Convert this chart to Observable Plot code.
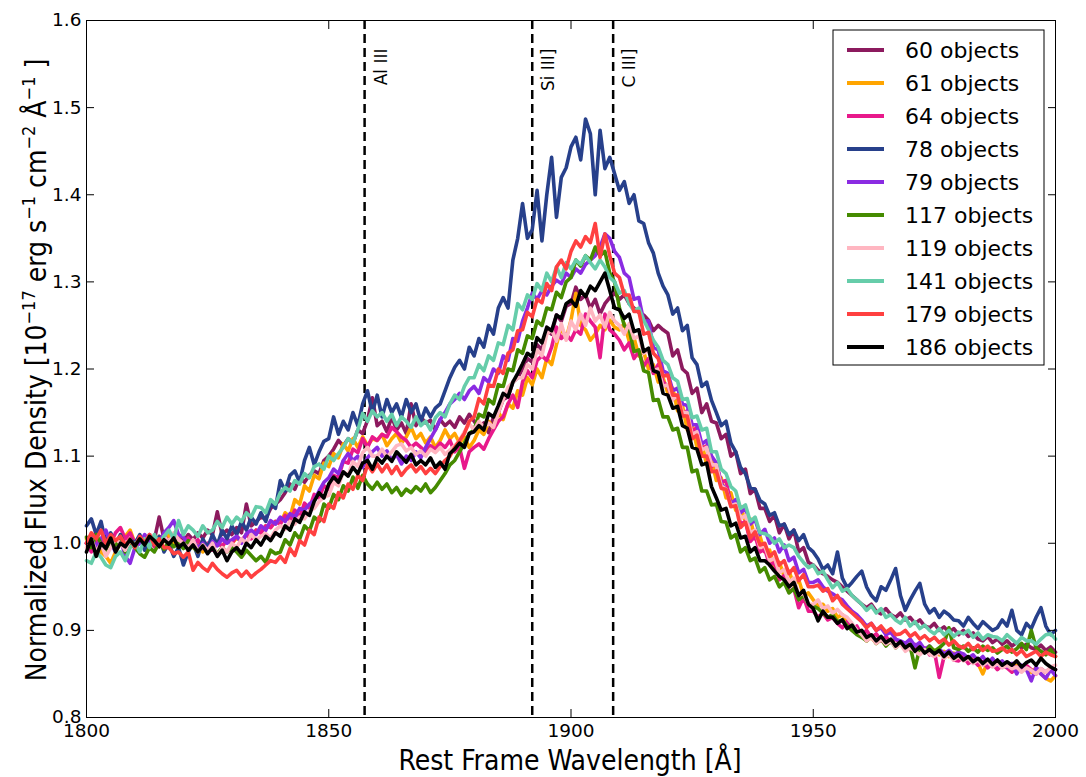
<!DOCTYPE html>
<html><head><meta charset="utf-8">
<script src="https://cdn.jsdelivr.net/npm/d3@7"></script>
<script src="https://cdn.jsdelivr.net/npm/@observablehq/plot@0.6"></script>
<style>body{margin:0;background:#fff} #chart{width:1086px;height:777px}</style>
</head><body><div id="chart"></div>
<script>
// Wavelength grid: 1 Å sampling from 1800 to 2000 Å
const startWl = 1800;
const xTicks = [1800, 1850, 1900, 1950, 2000];
const yTicks = [0.8, 0.9, 1.0, 1.1, 1.2, 1.3, 1.4, 1.5, 1.6];
const lineWl = [1857.4, 1892.0, 1908.7];
const lineNames = ["Al III", "Si III]", "C III]"];

const seriesNames = ["60 objects","61 objects","64 objects","78 objects","79 objects","117 objects","119 objects","141 objects","179 objects","186 objects"];
const seriesColors = ["#8c1a5e","#ffa500","#e8198b","#27408b","#8a2be2","#458b00","#ffb6c1","#66cdaa","#ff4040","#000000"];

const s60 = [
1.0,0.995,1.005,0.99,1.0,1.008,0.998,1.004,0.992,1.0,
0.995,1.004,0.998,1.01,1.004,1.03,1.005,1.012,1.0,1.008,
1.002,1.01,1.004,1.012,1.006,1.015,1.01,1.036,1.01,1.015,
1.01,1.018,1.012,1.045,1.02,1.025,1.03,1.028,1.04,1.045,
1.05,1.058,1.068,1.062,1.075,1.07,1.078,1.083,1.08,1.095,
1.1,1.108,1.118,1.112,1.12,1.115,1.13,1.126,1.141,1.167,
1.135,1.14,1.128,1.145,1.13,1.138,1.126,1.16,1.135,1.145,
1.138,1.141,1.13,1.142,1.135,1.14,1.133,1.145,1.138,1.148,
1.14,1.132,1.138,1.127,1.145,1.15,1.165,1.168,1.185,1.19,
1.2,1.212,1.208,1.228,1.222,1.245,1.24,1.262,1.255,1.272,
1.275,1.294,1.28,1.285,1.27,1.28,1.263,1.275,1.282,1.287,
1.28,1.285,1.275,1.27,1.265,1.262,1.256,1.244,1.25,1.245,
1.241,1.215,1.222,1.2,1.195,1.172,1.178,1.15,1.16,1.14,
1.138,1.12,1.125,1.1,1.105,1.08,1.085,1.057,1.062,1.04,
1.04,1.025,1.032,1.012,1.022,1.005,1.015,0.99,0.995,0.978,
0.975,0.969,0.965,0.962,0.958,0.955,0.95,0.945,0.94,0.935,
0.93,0.926,0.93,0.922,0.919,0.925,0.918,0.915,0.92,0.912,
0.915,0.908,0.912,0.905,0.903,0.908,0.9,0.904,0.898,0.902,
0.895,0.9,0.893,0.897,0.89,0.888,0.893,0.886,0.89,0.884,
0.888,0.882,0.886,0.88,0.884,0.88,0.878,0.883,0.877,0.881,
0.875];

const s61 = [
1.005,0.995,1.01,0.99,0.985,0.977,0.99,1.0,1.008,1.015,
1.0,1.006,0.995,1.004,0.998,1.008,1.002,1.01,1.0,1.006,
0.998,1.004,0.995,1.0,0.99,0.998,0.993,1.002,0.996,1.004,
1.0,1.006,1.002,1.01,1.006,1.015,1.012,1.02,1.018,1.025,
1.022,1.035,1.03,1.05,1.045,1.066,1.06,1.078,1.074,1.092,
1.088,1.103,1.098,1.114,1.106,1.12,1.11,1.122,1.112,1.12,
1.118,1.125,1.112,1.12,1.126,1.115,1.122,1.133,1.12,1.126,
1.115,1.122,1.11,1.118,1.13,1.12,1.126,1.115,1.122,1.11,
1.118,1.13,1.125,1.14,1.132,1.15,1.142,1.16,1.155,1.175,
1.17,1.19,1.182,1.2,1.19,1.212,1.205,1.228,1.248,1.235,
1.256,1.287,1.25,1.245,1.233,1.24,1.25,1.245,1.256,1.248,
1.245,1.252,1.232,1.236,1.215,1.22,1.2,1.205,1.185,1.19,
1.172,1.178,1.152,1.158,1.13,1.136,1.11,1.115,1.09,1.096,
1.072,1.075,1.052,1.058,1.038,1.042,1.025,1.028,1.005,1.008,
0.99,0.992,0.972,0.978,0.962,0.968,0.952,0.958,0.94,0.943,
0.935,0.928,0.93,0.922,0.925,0.915,0.918,0.91,0.905,0.9,
0.895,0.888,0.892,0.885,0.89,0.883,0.888,0.882,0.886,0.88,
0.884,0.878,0.882,0.876,0.88,0.877,0.872,0.876,0.87,0.874,
0.868,0.872,0.865,0.87,0.862,0.85,0.864,0.86,0.865,0.858,
0.862,0.857,0.86,0.855,0.858,0.852,0.857,0.85,0.845,0.842,
0.848];

const s64 = [
1.0,0.99,1.005,0.995,1.01,1.0,1.012,1.018,1.005,1.012,
1.0,1.008,0.998,1.005,0.996,1.003,1.01,1.0,1.011,1.005,
1.0,1.006,0.998,1.004,0.994,1.0,0.992,1.002,0.996,1.005,
1.0,1.008,1.003,1.01,1.005,1.015,1.012,1.02,1.018,1.025,
1.022,1.032,1.026,1.038,1.03,1.046,1.04,1.056,1.052,1.066,
1.062,1.078,1.075,1.094,1.092,1.108,1.104,1.12,1.11,1.122,
1.118,1.125,1.122,1.133,1.128,1.122,1.118,1.11,1.115,1.11,
1.105,1.112,1.108,1.115,1.11,1.118,1.105,1.11,1.086,1.105,
1.11,1.114,1.108,1.12,1.13,1.14,1.145,1.16,1.17,1.156,
1.185,1.198,1.19,1.21,1.215,1.21,1.225,1.248,1.235,1.24,
1.233,1.245,1.24,1.263,1.255,1.248,1.213,1.263,1.245,1.24,
1.233,1.222,1.23,1.212,1.22,1.203,1.212,1.195,1.205,1.185,
1.18,1.165,1.17,1.148,1.152,1.128,1.133,1.108,1.112,1.088,
1.092,1.07,1.072,1.045,1.048,1.022,1.025,1.002,1.008,0.99,
0.993,0.975,0.978,0.958,0.963,0.944,0.948,0.926,0.938,0.922,
0.922,0.915,0.92,0.912,0.915,0.908,0.903,0.91,0.9,0.905,
0.895,0.9,0.892,0.896,0.888,0.893,0.886,0.89,0.885,0.882,
0.878,0.884,0.875,0.88,0.872,0.876,0.846,0.87,0.874,0.866,
0.865,0.87,0.862,0.866,0.86,0.864,0.857,0.862,0.855,0.86,
0.857,0.852,0.858,0.854,0.86,0.855,0.85,0.856,0.852,0.857,
0.855];

const s78 = [
1.02,1.028,1.01,1.025,1.0,1.012,0.998,1.01,0.995,1.005,
1.0,1.01,0.992,1.005,0.998,1.008,0.99,1.0,0.985,0.995,
0.975,0.99,1.0,0.985,1.005,0.995,1.01,0.998,1.015,1.005,
1.02,1.01,1.025,1.015,1.03,1.022,1.035,1.025,1.046,1.04,
1.072,1.06,1.078,1.083,1.07,1.095,1.11,1.09,1.105,1.117,
1.12,1.145,1.125,1.14,1.13,1.15,1.135,1.16,1.175,1.15,
1.17,1.145,1.165,1.15,1.16,1.145,1.165,1.15,1.16,1.14,
1.155,1.145,1.155,1.16,1.175,1.19,1.202,1.21,1.2,1.225,
1.215,1.235,1.225,1.25,1.24,1.27,1.282,1.27,1.325,1.35,
1.39,1.35,1.36,1.405,1.347,1.4,1.443,1.374,1.42,1.431,
1.455,1.466,1.44,1.487,1.47,1.4,1.474,1.43,1.443,1.424,
1.405,1.415,1.39,1.4,1.37,1.367,1.345,1.333,1.31,1.295,
1.285,1.263,1.27,1.244,1.25,1.213,1.205,1.18,1.185,1.164,
1.15,1.135,1.14,1.115,1.105,1.087,1.08,1.064,1.062,1.049,
1.045,1.032,1.035,1.02,1.022,1.01,1.015,1.003,1.01,0.995,
0.99,0.982,0.97,0.975,0.965,0.99,0.96,0.949,0.955,0.962,
0.968,0.95,0.94,0.934,0.95,0.946,0.958,0.971,0.94,0.923,
0.935,0.945,0.954,0.93,0.92,0.925,0.915,0.922,0.918,0.912,
0.911,0.905,0.915,0.908,0.902,0.91,0.905,0.9,0.903,0.912,
0.905,0.923,0.9,0.895,0.908,0.902,0.915,0.926,0.905,0.895,
0.9];

const s79 = [
1.0,1.01,0.995,1.005,1.015,1.0,0.99,1.005,0.985,0.977,
0.995,1.0,1.01,1.002,1.008,1.0,1.012,1.018,1.026,1.01,
1.007,0.998,1.003,0.995,1.0,0.992,1.002,0.997,1.005,1.0,
1.004,1.008,1.0,1.011,1.015,1.01,1.02,1.015,1.026,1.022,
1.03,1.025,1.034,1.03,1.04,1.038,1.045,1.049,1.06,1.07,
1.075,1.085,1.08,1.095,1.103,1.095,1.1,1.087,1.098,1.105,
1.11,1.1,1.106,1.095,1.102,1.091,1.1,1.095,1.105,1.098,
1.11,1.12,1.13,1.142,1.15,1.16,1.165,1.172,1.165,1.175,
1.18,1.172,1.19,1.185,1.2,1.195,1.215,1.21,1.235,1.232,
1.255,1.27,1.287,1.28,1.29,1.285,1.295,1.302,1.298,1.31,
1.305,1.315,1.31,1.32,1.325,1.33,1.34,1.355,1.35,1.335,
1.328,1.31,1.305,1.28,1.282,1.255,1.255,1.225,1.222,1.198,
1.195,1.175,1.178,1.16,1.158,1.136,1.136,1.114,1.118,1.1,
1.092,1.068,1.062,1.045,1.05,1.035,1.04,1.022,1.027,1.01,
1.016,1.0,1.006,0.99,0.998,0.98,0.984,0.966,0.97,0.955,
0.955,0.958,0.95,0.945,0.942,0.938,0.935,0.928,0.922,0.918,
0.912,0.905,0.908,0.9,0.903,0.895,0.898,0.89,0.888,0.885,
0.89,0.882,0.886,0.878,0.882,0.875,0.879,0.873,0.877,0.872,
0.875,0.873,0.868,0.872,0.865,0.87,0.862,0.868,0.86,0.865,
0.858,0.862,0.85,0.86,0.855,0.842,0.858,0.85,0.845,0.855,
0.848];

const s117 = [
1.007,0.995,1.01,1.0,0.992,1.004,0.998,1.006,0.99,1.0,
0.995,0.988,0.984,0.995,0.99,1.0,0.993,1.002,0.996,1.0,
0.994,1.003,0.996,0.99,0.998,0.99,0.995,0.988,0.995,0.99,
0.995,0.99,0.984,0.992,0.986,0.98,0.985,0.978,0.992,0.988,
0.99,1.004,0.998,1.012,1.005,1.02,1.014,1.03,1.025,1.045,
1.04,1.056,1.05,1.066,1.06,1.076,1.063,1.078,1.068,1.062,
1.07,1.062,1.068,1.058,1.064,1.055,1.062,1.058,1.065,1.06,
1.068,1.058,1.064,1.072,1.08,1.09,1.095,1.105,1.115,1.126,
1.13,1.148,1.145,1.165,1.16,1.182,1.18,1.2,1.198,1.222,
1.218,1.238,1.235,1.255,1.25,1.27,1.268,1.288,1.282,1.3,
1.305,1.325,1.318,1.33,1.325,1.34,1.33,1.335,1.31,1.3,
1.27,1.25,1.246,1.22,1.222,1.198,1.196,1.164,1.165,1.145,
1.145,1.13,1.132,1.11,1.11,1.082,1.084,1.06,1.06,1.044,
1.045,1.025,1.024,1.006,1.01,0.99,0.995,0.98,0.983,0.967,
0.972,0.958,0.962,0.95,0.955,0.943,0.948,0.935,0.94,0.93,
0.928,0.925,0.92,0.915,0.918,0.91,0.912,0.905,0.9,0.895,
0.892,0.888,0.893,0.885,0.89,0.882,0.888,0.88,0.885,0.878,
0.882,0.857,0.88,0.875,0.882,0.876,0.88,0.885,0.903,0.88,
0.878,0.882,0.876,0.88,0.875,0.882,0.877,0.88,0.874,0.878,
0.882,0.875,0.879,0.885,0.878,0.9,0.88,0.876,0.872,0.878,
0.87];

const s119 = [
0.995,1.005,0.99,1.0,0.985,0.995,1.005,1.0,0.992,1.003,
0.998,1.006,1.0,1.01,1.004,0.996,1.008,1.0,1.012,1.004,
1.0,0.995,1.004,0.99,0.998,0.992,1.0,0.985,0.995,0.99,
1.0,0.995,1.005,1.0,1.01,1.004,1.008,1.011,1.006,1.015,
1.02,1.016,1.025,1.022,1.03,1.028,1.037,1.04,1.048,1.053,
1.055,1.07,1.066,1.082,1.078,1.094,1.088,1.104,1.11,1.1,
1.1,1.108,1.099,1.105,1.112,1.114,1.106,1.11,1.102,1.106,
1.1,1.108,1.104,1.11,1.102,1.107,1.112,1.118,1.128,1.137,
1.13,1.14,1.133,1.138,1.133,1.15,1.165,1.179,1.185,1.19,
1.19,1.205,1.2,1.222,1.215,1.24,1.245,1.232,1.252,1.233,
1.255,1.245,1.263,1.25,1.27,1.255,1.262,1.248,1.265,1.255,
1.25,1.24,1.252,1.235,1.238,1.218,1.222,1.198,1.2,1.18,
1.182,1.165,1.17,1.15,1.15,1.125,1.128,1.107,1.11,1.09,
1.09,1.066,1.062,1.043,1.045,1.028,1.032,1.012,1.015,0.995,
0.997,0.98,0.983,0.966,0.97,0.955,0.96,0.94,0.943,0.93,
0.93,0.935,0.925,0.928,0.92,0.924,0.918,0.915,0.908,0.9,
0.895,0.888,0.892,0.885,0.89,0.884,0.888,0.88,0.884,0.876,
0.88,0.876,0.872,0.878,0.873,0.87,0.875,0.868,0.872,0.866,
0.87,0.865,0.868,0.862,0.866,0.86,0.864,0.858,0.862,0.857,
0.86,0.856,0.858,0.852,0.857,0.854,0.85,0.856,0.852,0.858,
0.86];

const s141 = [
0.98,0.977,0.99,0.984,0.975,0.972,0.985,0.99,0.98,0.995,
1.0,0.99,1.005,0.995,1.01,1.0,1.008,1.015,1.005,1.026,
1.01,1.02,1.015,1.008,1.02,1.012,1.015,1.025,1.018,1.03,
1.022,1.03,1.025,1.035,1.03,1.042,1.041,1.035,1.05,1.045,
1.058,1.064,1.06,1.072,1.068,1.08,1.075,1.088,1.091,1.085,
1.1,1.095,1.103,1.11,1.12,1.115,1.13,1.149,1.14,1.152,
1.145,1.15,1.14,1.148,1.135,1.145,1.14,1.133,1.145,1.135,
1.14,1.13,1.144,1.15,1.145,1.16,1.17,1.165,1.18,1.19,
1.19,1.205,1.198,1.215,1.21,1.23,1.228,1.25,1.245,1.275,
1.268,1.285,1.28,1.298,1.29,1.31,1.3,1.317,1.305,1.322,
1.315,1.325,1.32,1.33,1.322,1.315,1.325,1.317,1.305,1.3,
1.287,1.29,1.275,1.267,1.27,1.256,1.245,1.233,1.225,1.21,
1.205,1.19,1.186,1.165,1.166,1.144,1.146,1.13,1.132,1.105,
1.105,1.085,1.08,1.065,1.06,1.04,1.044,1.025,1.03,1.012,
1.011,1.008,1.0,1.005,0.995,0.998,0.995,0.985,0.978,0.972,
0.975,0.965,0.968,0.958,0.949,0.955,0.945,0.948,0.94,0.935,
0.93,0.923,0.928,0.92,0.925,0.915,0.918,0.912,0.908,0.915,
0.905,0.91,0.902,0.906,0.9,0.896,0.902,0.895,0.9,0.893,
0.898,0.896,0.9,0.892,0.897,0.89,0.895,0.893,0.892,0.888,
0.895,0.89,0.885,0.892,0.888,0.888,0.884,0.89,0.895,0.896,
0.89];

const s179 = [
1.0,1.012,1.005,1.015,1.0,1.01,1.003,1.008,0.998,1.005,
0.995,1.008,1.0,1.01,0.998,1.005,0.995,0.995,0.988,0.99,
0.984,0.99,0.969,0.978,0.972,0.968,0.977,0.97,0.965,0.961,
0.966,0.969,0.962,0.968,0.961,0.966,0.97,0.975,0.98,0.978,
0.985,0.978,0.994,0.986,1.003,0.998,1.015,1.01,1.03,1.025,
1.045,1.04,1.058,1.052,1.068,1.062,1.078,1.072,1.09,1.082,
1.091,1.082,1.09,1.08,1.088,1.078,1.085,1.09,1.082,1.088,
1.08,1.086,1.08,1.088,1.095,1.1,1.11,1.118,1.126,1.14,
1.145,1.166,1.16,1.182,1.18,1.2,1.195,1.218,1.222,1.244,
1.245,1.265,1.26,1.28,1.276,1.298,1.29,1.317,1.325,1.315,
1.335,1.347,1.34,1.352,1.345,1.367,1.328,1.355,1.33,1.31,
1.305,1.285,1.285,1.266,1.266,1.24,1.242,1.218,1.212,1.192,
1.193,1.17,1.17,1.146,1.146,1.12,1.124,1.1,1.1,1.082,
1.083,1.063,1.062,1.042,1.043,1.018,1.024,1.006,1.013,0.998,
1.0,0.985,0.99,0.975,0.98,0.965,0.972,0.957,0.964,0.95,
0.95,0.952,0.945,0.948,0.934,0.94,0.93,0.925,0.92,0.915,
0.91,0.903,0.908,0.9,0.905,0.898,0.902,0.895,0.896,0.9,
0.893,0.897,0.89,0.894,0.888,0.892,0.886,0.89,0.883,0.888,
0.882,0.88,0.885,0.878,0.883,0.877,0.882,0.876,0.877,0.88,
0.875,0.878,0.872,0.877,0.87,0.873,0.876,0.87,0.875,0.872,
0.87];

const s186 = [
0.99,1.005,0.985,1.0,0.994,1.006,0.99,1.0,0.996,1.004,
0.997,1.005,0.998,1.008,1.003,0.996,1.004,0.999,1.006,0.995,
1.0,0.992,0.998,0.99,0.997,0.988,0.995,0.985,0.992,0.98,
0.99,0.995,0.988,1.0,0.995,1.004,0.998,1.008,1.003,1.012,
1.008,1.02,1.015,1.028,1.024,1.036,1.032,1.048,1.058,1.052,
1.068,1.076,1.07,1.082,1.077,1.087,1.08,1.092,1.095,1.085,
1.098,1.092,1.1,1.094,1.105,1.099,1.093,1.102,1.09,1.095,
1.09,1.098,1.087,1.093,1.085,1.103,1.108,1.115,1.11,1.126,
1.128,1.135,1.13,1.149,1.145,1.158,1.172,1.168,1.185,1.195,
1.206,1.218,1.214,1.236,1.23,1.248,1.244,1.262,1.258,1.275,
1.279,1.272,1.29,1.283,1.295,1.29,1.3,1.31,1.29,1.27,
1.268,1.258,1.263,1.243,1.245,1.22,1.224,1.198,1.196,1.172,
1.17,1.155,1.157,1.135,1.132,1.11,1.108,1.09,1.092,1.065,
1.052,1.038,1.04,1.02,1.023,1.006,1.008,0.99,0.995,0.98,
0.98,0.975,0.968,0.962,0.958,0.95,0.955,0.94,0.946,0.93,
0.925,0.911,0.922,0.915,0.915,0.908,0.912,0.902,0.906,0.898,
0.9,0.892,0.895,0.888,0.893,0.886,0.89,0.882,0.887,0.88,
0.884,0.876,0.881,0.874,0.878,0.873,0.877,0.87,0.875,0.868,
0.872,0.866,0.87,0.864,0.868,0.862,0.867,0.861,0.866,0.86,
0.864,0.86,0.865,0.858,0.863,0.866,0.86,0.868,0.862,0.858,
0.855];

const seriesValues = [s60, s61, s64, s78, s79, s117, s119, s141, s179, s186];

const rows = [];
seriesValues.forEach((vals, k) => vals.forEach((v, i) => rows.push({wl: startWl + i, flux: v, name: seriesNames[k]})));

const cond = "'DejaVu Sans Condensed', 'DejaVu Sans', sans-serif";
const fmt1 = d3.format(".1f");
const fmtInt = d3.format("d");

const plot = Plot.plot({
  width: 1086, height: 777,
  marginLeft: 86, marginRight: 31, marginTop: 20, marginBottom: 60,
  style: {fontFamily: "'DejaVu Sans', sans-serif", fontSize: "18px", color: "black", background: "white", overflow: "visible"},
  x: {domain: [1800, 2000], label: null},
  y: {domain: [0.8, 1.6], label: null},
  color: {domain: seriesNames, range: seriesColors},
  marks: [
    Plot.ruleX(lineWl, {stroke: "black", strokeWidth: 2.5, strokeDasharray: "9,5"}),
    Plot.line(rows, {x: "wl", y: "flux", z: "name", stroke: "name", strokeWidth: 3.6, strokeLinejoin: "round"}),
    Plot.text(lineWl.map((w, i) => ({w, t: lineNames[i]})), {x: "w", text: "t", frameAnchor: "top", dy: 28, dx: 10, rotate: -90, textAnchor: "end", fontSize: 17, fill: "black"}),
    Plot.frame({stroke: "black", strokeWidth: 1}),
    Plot.axisX(xTicks, {anchor: "bottom", tickSize: -8, tickPadding: 14, tickFormat: fmtInt, label: null, fontSize: 18.5}),
    Plot.axisX(xTicks, {anchor: "top", tickSize: -8, tickFormat: () => "", label: null}),
    Plot.axisY(yTicks, {anchor: "left", tickSize: -8, tickPadding: 13, tickFormat: fmt1, label: null, fontSize: 18.5}),
    Plot.axisY(yTicks, {anchor: "right", tickSize: -8, tickFormat: () => "", label: null})
  ]
});

document.getElementById("chart").appendChild(plot);

const svg = d3.select(plot);

// x-axis label
svg.append("text")
  .attr("x", 570).attr("y", 770)
  .attr("text-anchor", "middle")
  .style("font-family", cond).style("font-stretch", "condensed").style("font-size", "28px")
  .text("Rest Frame Wavelength [Å]");

// y-axis label with superscripts
const yl = svg.append("text")
  .attr("transform", "translate(46,370) rotate(-90)")
  .attr("text-anchor", "middle")
  .style("font-family", cond).style("font-stretch", "condensed").style("font-size", "28px");
const parts = [["Normalized Flux Density [10", false], ["−17", true], [" erg s", false], ["−1", true], [" cm", false], ["−2", true], [" Å", false], ["−1", true], [" ]", false]];
let prevSup = false;
parts.forEach(([t, sup]) => {
  const ts = yl.append("tspan").text(t);
  if (sup) ts.style("font-size", "18px");
  if (sup && !prevSup) ts.attr("dy", -11);
  else if (!sup && prevSup) ts.attr("dy", 11);
  prevSup = sup;
});

// legend
const lg = svg.append("g");
lg.append("rect").attr("x", 833).attr("y", 30).attr("width", 211).attr("height", 335)
  .attr("fill", "white").attr("stroke", "black").attr("stroke-width", 1);
seriesNames.forEach((n, i) => {
  const yy = 50 + i * 33;
  lg.append("line").attr("x1", 847).attr("x2", 884).attr("y1", yy).attr("y2", yy)
    .attr("stroke", seriesColors[i]).attr("stroke-width", 4);
  lg.append("text").attr("x", 905).attr("y", yy).attr("dy", "0.35em")
    .attr("text-anchor", "start")
    .style("font-family", "'DejaVu Sans', sans-serif").style("font-size", "22px")
    .text(n);
});
</script>
</body></html>
